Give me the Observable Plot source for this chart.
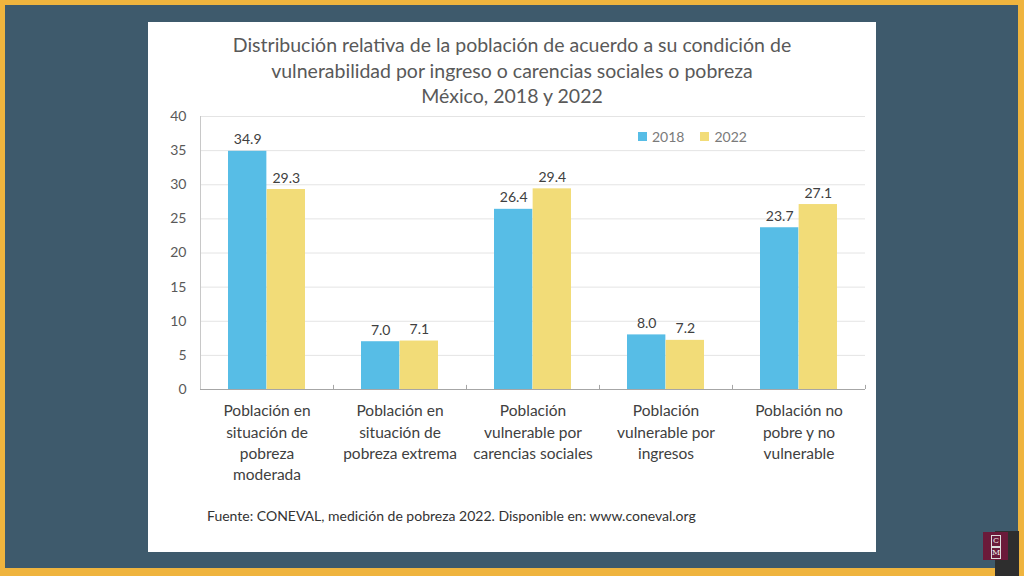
<!DOCTYPE html>
<html>
<head>
<meta charset="utf-8">
<script src="https://cdn.jsdelivr.net/npm/d3@7"></script>
<script src="https://cdn.jsdelivr.net/npm/@observablehq/plot@0.6"></script>
<style>
  html, body { margin: 0; padding: 0; }
  body { width: 1024px; height: 576px; background: #efb43e; position: relative; overflow: hidden; font-family: Lato, "Open Sans", sans-serif; }
  #bg { position: absolute; left: 5px; top: 5px; right: 6px; bottom: 8px; background: #3e5a6c; }
  #panel { position: absolute; left: 148px; top: 22px; width: 728px; height: 530px; background: #ffffff; }
  #title { position: absolute; left: 0; top: 10px; width: 728px; text-align: center; font-size: 19.5px; line-height: 25.5px; color: #595959; }
  #chart { position: absolute; left: 0; top: 83px; }
  #legend { position: absolute; left: 490px; top: 106px; display: flex; align-items: center; font-size: 14px; color: #7a7a7a; }
  #legend .item { display: flex; align-items: center; margin-right: 16px; }
  #legend .sw { width: 9px; height: 9px; margin-right: 5px; }
  #caption { position: absolute; left: 59px; top: 484px; font-size: 14px; line-height: 20px; color: #333333; }
  #logo1 { position: absolute; left: 995px; top: 531px; width: 24px; height: 45px; background: #2e2e2e; }
  #logo2 { position: absolute; left: 983px; top: 532px; width: 25px; height: 28px; background: #6b1a3a; }
  #logo2 span { position: absolute; left: 8px; width: 8px; height: 10px; border: 1px solid #ddd; color: #eee; font-size: 8px; line-height: 10px; text-align: center; font-family: "DejaVu Serif", serif; }
</style>
</head>
<body>
<div id="bg"></div>
<div id="panel">
  <div id="title"></div>
  <div id="chart"></div>
  <div id="legend"></div>
  <div id="caption"></div>
</div>
<div id="logo1"></div>
<div id="logo2"><span style="top:3px">C</span><span style="top:15px">M</span></div>
<script>
// ---- data ----
const titleLines = [
  "Distribución relativa de la población de acuerdo a su condición de",
  "vulnerabilidad por ingreso o carencias sociales o pobreza",
  "México, 2018 y 2022"
];
const categories = [
  "Población en\nsituación de\npobreza\nmoderada",
  "Población en\nsituación de\npobreza extrema",
  "Población\nvulnerable por\ncarencias sociales",
  "Población\nvulnerable por\ningresos",
  "Población no\npobre y no\nvulnerable"
];
const years = ["2018", "2022"];
const values2018 = [34.9, 7.0, 26.4, 8.0, 23.7];
const values2022 = [29.3, 7.1, 29.4, 7.2, 27.1];
const yTicks = [0, 5, 10, 15, 20, 25, 30, 35, 40];
const colors = ["#57bde6", "#f2dc78"];
const caption = "Fuente: CONEVAL, medición de pobreza 2022. Disponible en: www.coneval.org";

// ---- table ----
const table = categories.flatMap((c, i) => [
  {category: c, year: years[0], value: values2018[i]},
  {category: c, year: years[1], value: values2022[i]}
]);
const t2018 = table.filter(d => d.year === years[0]);
const t2022 = table.filter(d => d.year === years[1]);

// ---- layout ----
const W = 728, H = 400, mL = 52, mR = 11, mT = 11, mB = 116;
const pIn = 0.419, pOut = pIn / 2;
const n = categories.length;
const step = (W - mL - mR) / (n - pIn + 2 * pOut);
const bw = step * (1 - pIn);
const ink = "#404040";

document.getElementById("title").innerHTML = titleLines.join("<br>");
document.getElementById("caption").textContent = caption;
const leg = d3.select("#legend");
years.forEach((y, i) => {
  const it = leg.append("div").attr("class", "item");
  it.append("div").attr("class", "sw").style("background", colors[i]);
  it.append("span").text(y);
});

const plot = Plot.plot({
  width: W, height: H,
  marginLeft: mL, marginRight: mR, marginTop: mT, marginBottom: mB,
  style: {fontFamily: "Lato, 'Open Sans', sans-serif", background: "transparent", overflow: "visible"},
  x: {domain: categories, paddingInner: pIn, paddingOuter: pOut, label: null},
  y: {domain: [0, 40], label: null},
  color: {domain: years, range: colors},
  marks: [
    Plot.gridY(yTicks, {stroke: "#e4e4e4", strokeOpacity: 1}),
    Plot.barY(t2018, {x: "category", y: "value", fill: "year", insetRight: bw / 2}),
    Plot.barY(t2022, {x: "category", y: "value", fill: "year", insetLeft: bw / 2}),
    Plot.text(t2018, {x: "category", y: "value", text: d => d.value.toFixed(1), dx: -bw / 4, dy: -7, lineAnchor: "bottom", fontSize: 14, fill: ink}),
    Plot.text(t2022, {x: "category", y: "value", text: d => d.value.toFixed(1), dx: bw / 4, dy: -7, lineAnchor: "bottom", fontSize: 14, fill: ink}),
    Plot.ruleY([0], {stroke: "#a6a6a6"}),
    Plot.ruleX([categories[0]], {y1: 0, y2: 40, dx: -step / 2, stroke: "#c8c8c8"}),
    Plot.ruleX(categories, {y1: 0, y2: 0.6, dx: step / 2, stroke: "#a6a6a6"}),
    Plot.axisY(yTicks, {tickSize: 0, tickPadding: 14, fontSize: 14, fill: "#595959"}),
    Plot.axisX({tickSize: 0, tickPadding: 12, fontSize: 15.5, lineHeight: 1.36, fill: ink})
  ]
});
document.getElementById("chart").appendChild(plot);
</script>
</body>
</html>
